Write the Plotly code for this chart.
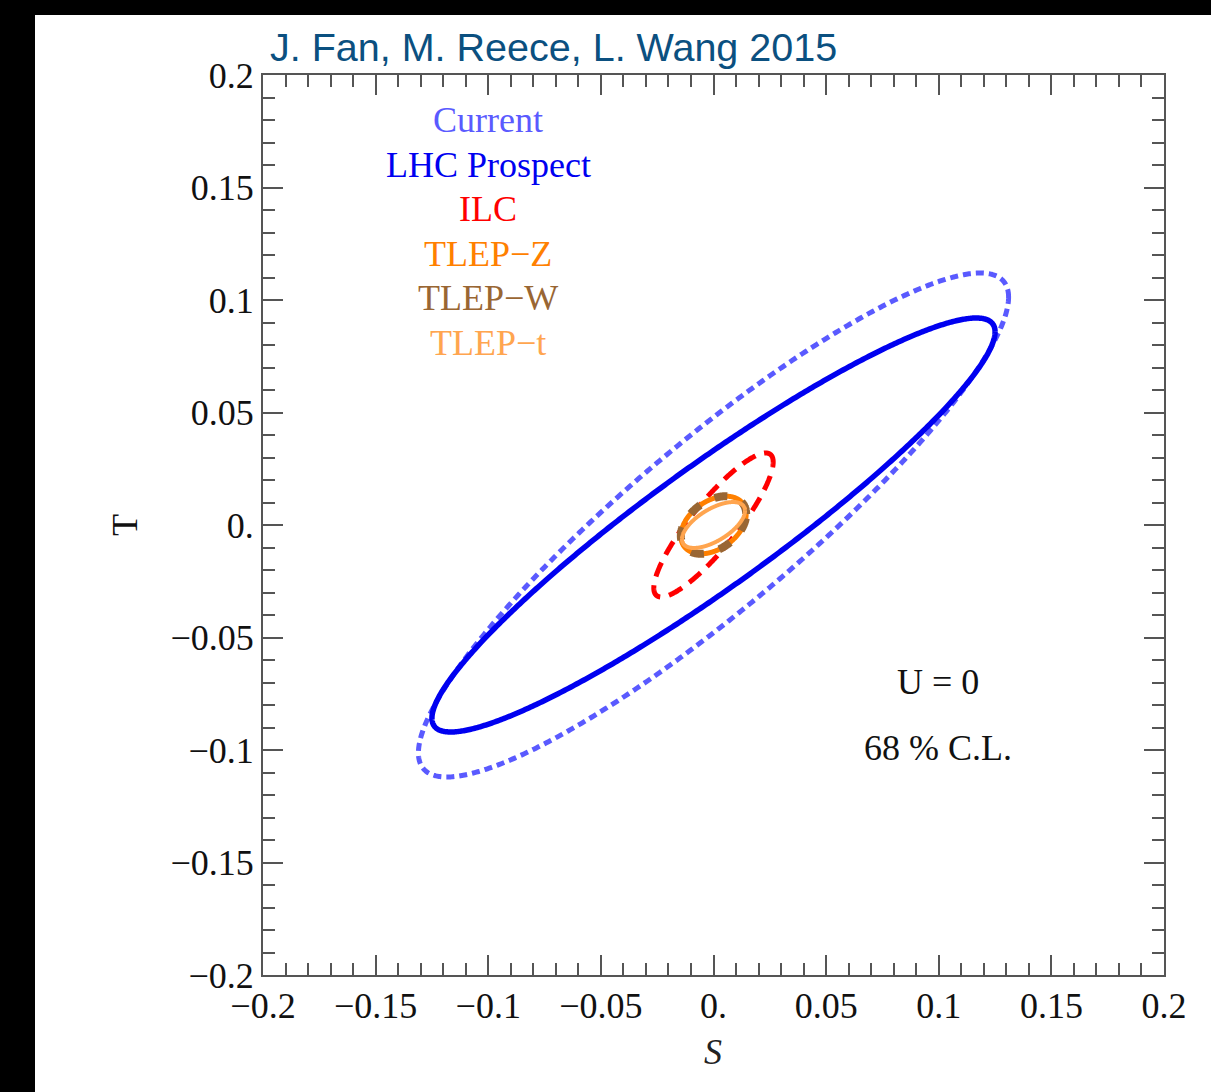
import numpy as np
import plotly.graph_objects as go

# ---- data ----
names = ["Current", "LHC Prospect", "ILC", "TLEP−Z", "TLEP−W", "TLEP−t"]
center_S = [0.0, 0.0, 0.0, 0.0, 0.0, 0.0]
center_T = [0.0, 0.0, 0.0, 0.0, 0.0, 0.0]
sigma_S = [0.131, 0.125, 0.0265, 0.0145, 0.0145, 0.014]
sigma_T = [0.112, 0.092, 0.032, 0.0128, 0.0128, 0.0102]
rho = [0.904, 0.933, 0.875, 0.38, 0.38, 0.62]

tick_vals = [-0.2, -0.15, -0.1, -0.05, 0.0, 0.05, 0.1, 0.15, 0.2]
tick_text = ["−0.2", "−0.15", "−0.1", "−0.05", "0.", "0.05", "0.1", "0.15", "0.2"]

# ---- styles ----
colors = ["#5a5aff", "#0000f0", "#ff0000", "#ff8000", "#996633", "#ffa54f"]
widths = [5, 5.5, 5, 5, 8, 4]
dashes = ["8px,5px", "solid", "15px,9px", "solid", "13px,16px", "solid"]

W, H = 1211, 1092
L, R, T0, B = 263, 1164, 75, 975


def px2paper(x, y):
    return (x - L) / (R - L), (B - y) / (B - T0)


fig = go.Figure()
t = np.linspace(0, 2 * np.pi, 721)
for i, n in enumerate(names):
    phi = np.arccos(rho[i])
    xs = center_S[i] + sigma_S[i] * np.cos(t)
    ys = center_T[i] + sigma_T[i] * np.cos(t - phi)
    fig.add_trace(go.Scatter(x=xs, y=ys, mode="lines", name=n, showlegend=False,
                             line=dict(color=colors[i], width=widths[i], dash=dashes[i],
                                       simplify=False),
                             hoverinfo="skip"))

serif = "Liberation Serif"
fs = 36

# label annotations (legend text)
label_y = [120, 165, 209, 254, 298, 343]
for i, n in enumerate(names):
    px, py = px2paper(488, label_y[i])
    fig.add_annotation(x=px, y=py, xref="paper", yref="paper", text=n, showarrow=False,
                       font=dict(family=serif, size=fs, color=colors[i]),
                       xanchor="center", yanchor="middle")

for txt, yy in [("U = 0", 682), ("68 % C.L.", 748)]:
    px, py = px2paper(938, yy)
    fig.add_annotation(x=px, y=py, xref="paper", yref="paper", text=txt, showarrow=False,
                       font=dict(family=serif, size=fs, color="#111"),
                       xanchor="center", yanchor="middle")

# axis titles
px, py = px2paper(125, 525)
fig.add_annotation(x=px, y=py, xref="paper", yref="paper", text="T", showarrow=False,
                   textangle=-90, font=dict(family=serif, size=fs, color="#111"),
                   xanchor="center", yanchor="middle")
px, py = px2paper(713, 1052)
fig.add_annotation(x=px, y=py, xref="paper", yref="paper", text="<i>S</i>", showarrow=False,
                   font=dict(family=serif, size=fs, color="#222"),
                   xanchor="center", yanchor="middle")

# title
px, py = px2paper(268, 47)
fig.add_annotation(x=px, y=py, xref="paper", yref="paper", text="J. Fan, M. Reece, L. Wang 2015",
                   showarrow=False, font=dict(family="Liberation Sans", size=39.5, color="#0b5080"),
                   xanchor="left", yanchor="middle")

# black bands (left and top)
x0, _ = px2paper(0, 0)
x1, _ = px2paper(35, 0)
_, y0 = px2paper(0, 0)
_, y1 = px2paper(0, 15)
fig.add_shape(type="rect", xref="paper", yref="paper", x0=x0, x1=x1, y0=-1, y1=2,
              fillcolor="black", line=dict(width=0), layer="above")
fig.add_shape(type="rect", xref="paper", yref="paper", x0=-1, x1=2, y0=y1, y1=y0,
              fillcolor="black", line=dict(width=0), layer="above")

axis_common = dict(
    range=[-0.2, 0.2], tickvals=tick_vals, ticktext=tick_text,
    ticks="inside", ticklen=20, tickwidth=1.5, tickcolor="#555",
    showline=True, linecolor="#555", linewidth=2, mirror="allticks",
    showgrid=False, zeroline=False,
    tickfont=dict(family=serif, size=fs, color="#111"),
    minor=dict(dtick=0.01, tick0=0, ticks="inside", ticklen=12, tickwidth=1.5,
               tickcolor="#555", showgrid=False),
)
fig.update_layout(
    width=W, height=H,
    margin=dict(l=L, r=W - R, t=T0, b=H - B),
    paper_bgcolor="white", plot_bgcolor="white",
    xaxis=dict(**axis_common, ticklabelstandoff=-2),
    yaxis=dict(**axis_common),
    showlegend=False,
)

fig.write_html("out.html")
